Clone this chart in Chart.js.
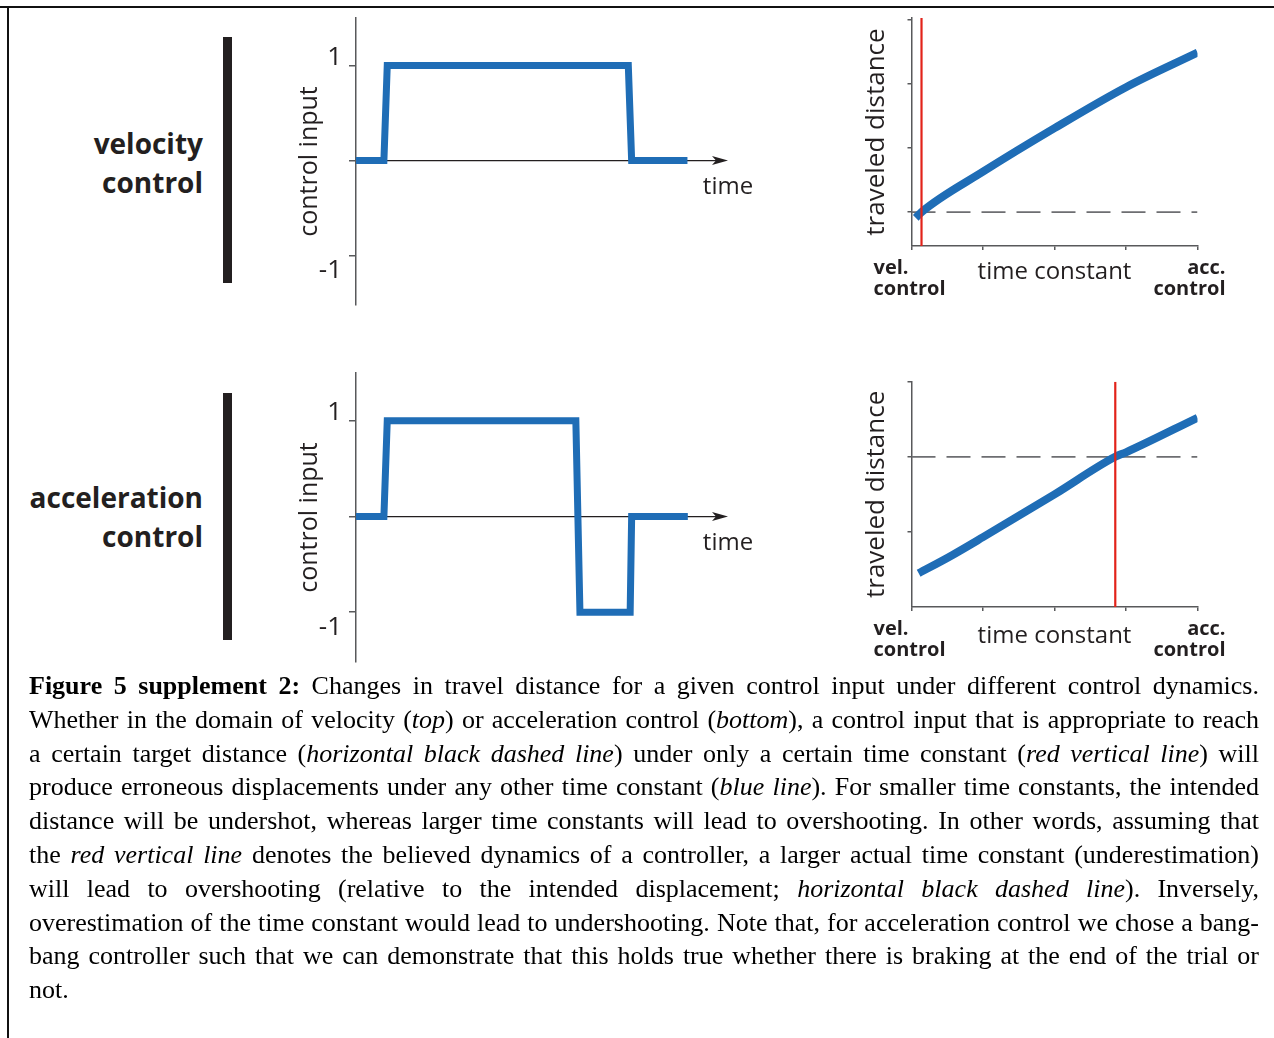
<!DOCTYPE html>
<html>
<head>
<meta charset="utf-8">
<script src="https://cdn.jsdelivr.net/npm/chart.js@4.4.1/dist/chart.umd.min.js"></script>
<style>
  body { margin: 0; width: 1274px; height: 1038px; position: relative; background: #fff; overflow: hidden; }
  .frame-top { position: absolute; left: 0; top: 6px; width: 1274px; height: 2px; background: #111; }
  .frame-left { position: absolute; left: 7px; top: 6px; width: 2px; height: 1032px; background: #111; }
  .panel { position: absolute; }
  .rowlabel { position: absolute; left: 0; width: 203px; text-align: right; font: 700 28px 'Open Sans', sans-serif; line-height: 38.5px; color: #231f20; }
  .bar { position: absolute; left: 223px; width: 9px; background: #231f20; }
  .caption { position: absolute; left: 29px; top: 669px; width: 1230px; font-family: 'Liberation Serif', 'Times New Roman', serif; font-size: 26px; line-height: 33.8px; color: #000; }
  .caption div { text-align: justify; text-align-last: justify; white-space: nowrap; }
  .caption div.last { text-align-last: left; }
</style>
</head>
<body>
<div class="frame-top"></div>
<div class="frame-left"></div>

<div class="rowlabel" style="top:124px">velocity<br>control</div>
<div class="bar" style="top:37px;height:246px"></div>
<div class="rowlabel" style="top:478px">acceleration<br>control</div>
<div class="bar" style="top:393px;height:247px"></div>

<canvas id="velInputChart" class="panel" style="left:290px;top:10px" width="480" height="310"></canvas>
<canvas id="accInputChart" class="panel" style="left:290px;top:365px" width="480" height="310"></canvas>
<canvas id="velDistChart" class="panel" style="left:850px;top:10px" width="400" height="290"></canvas>
<canvas id="accDistChart" class="panel" style="left:850px;top:370px" width="400" height="300"></canvas>

<div class="caption">
  <div><b>Figure 5 supplement 2:</b> Changes in travel distance for a given control input under different control dynamics.</div>
  <div>Whether in the domain of velocity (<i>top</i>) or acceleration control (<i>bottom</i>), a control input that is appropriate to reach</div>
  <div>a certain target distance (<i>horizontal black dashed line</i>) under only a certain time constant (<i>red vertical line</i>) will</div>
  <div>produce erroneous displacements under any other time constant (<i>blue line</i>). For smaller time constants, the intended</div>
  <div>distance will be undershot, whereas larger time constants will lead to overshooting. In other words, assuming that</div>
  <div>the <i>red vertical line</i> denotes the believed dynamics of a controller, a larger actual time constant (underestimation)</div>
  <div>will lead to overshooting (relative to the intended displacement; <i>horizontal black dashed line</i>). Inversely,</div>
  <div>overestimation of the time constant would lead to undershooting. Note that, for acceleration control we chose a bang-</div>
  <div>bang controller such that we can demonstrate that this holds true whether there is braking at the end of the trial or</div>
  <div class="last">not.</div>
</div>

<script>
// control input over time (step profiles)
const velTime = [0, 0.75, 0.84, 7.32, 7.41, 8.91];
const velInput = [0, 0, 1, 1, 0, 0];
const accTime = [0, 0.75, 0.84, 5.91, 6.02, 7.37, 7.41, 8.92];
const accInput = [0, 0, 1, 1, -1, -1, 0, 0];
const inputTicks = [-1, 0, 1];

// traveled distance vs. time constant
const tcTicks = [0, 1, 2, 3, 4];
const tcEndLabels = [['vel.', 'control'], ['acc.', 'control']];

const velTc = [0.06, 0.14, 1, 2, 3, 4];
const velDist = [0.91, 1.0, 1.63, 2.31, 2.95, 3.49];
const velTarget = 1;
const velBelieved = 0.14;
const velDistTicks = [1, 2, 3, 4];

const accTc = [0.1, 0.55, 1, 2, 2.85, 3, 4];
const accDist = [0.45, 0.68, 0.93, 1.5, 2.0, 2.06, 2.52];
const accTarget = 2;
const accBelieved = 2.85;
const accDistTicks = [1, 2, 3];

const BLUE = '#1f6db6';
const RED = '#e2231a';
const AXIS = '#58595b';
const INK = '#231f20';
const FONT = 'Open Sans';

const toPoints = (xs, ys) => xs.map((x, i) => ({ x: x, y: ys[i] }));

// zero line with arrow + "time" label
const timeArrow = {
    id: 'timeArrow',
    beforeDatasetsDraw(chart) {
        const { ctx, chartArea, scales } = chart;
        const y0 = scales.y.getPixelForValue(0);
        const xEnd = chartArea.right;
        ctx.save();
        ctx.strokeStyle = INK;
        ctx.lineWidth = 1.2;
        ctx.beginPath();
        ctx.moveTo(chartArea.left, y0);
        ctx.lineTo(xEnd - 8, y0);
        ctx.stroke();
        ctx.fillStyle = INK;
        ctx.beginPath();
        ctx.moveTo(xEnd, y0);
        ctx.lineTo(xEnd - 16, y0 - 4.5);
        ctx.lineTo(xEnd - 12, y0);
        ctx.lineTo(xEnd - 16, y0 + 4.5);
        ctx.closePath();
        ctx.fill();
        ctx.font = '24px "' + FONT + '"';
        ctx.textAlign = 'center';
        ctx.fillText('time', xEnd, y0 + 33);
        ctx.restore();
    }
};

// "vel. control" / "acc. control" under the ends of the x axis
const endLabels = {
    id: 'endLabels',
    afterDraw(chart) {
        const { ctx, chartArea } = chart;
        ctx.save();
        ctx.font = '700 20px "' + FONT + '"';
        ctx.fillStyle = INK;
        ctx.textAlign = 'left';
        ctx.fillText(tcEndLabels[0][0], chartArea.left - 38, chartArea.bottom + 28);
        ctx.fillText(tcEndLabels[0][1], chartArea.left - 38, chartArea.bottom + 49);
        ctx.textAlign = 'right';
        ctx.fillText(tcEndLabels[1][0], chartArea.right + 28, chartArea.bottom + 28);
        ctx.fillText(tcEndLabels[1][1], chartArea.right + 28, chartArea.bottom + 49);
        ctx.restore();
    }
};

function inputChart(id, xs, ys, pad) {
    return new Chart(document.getElementById(id), {
        type: 'line',
        data: {
            datasets: [{
                data: toPoints(xs, ys),
                borderColor: BLUE,
                borderWidth: 7,
                pointRadius: 0,
                tension: 0,
                borderJoinStyle: 'miter'
            }]
        },
        options: {
            responsive: false,
            animation: false,
            layout: { padding: pad },
            plugins: { legend: { display: false }, tooltip: { enabled: false } },
            scales: {
                x: { type: 'linear', min: 0, max: 10, display: false },
                y: {
                    type: 'linear', min: -1.52, max: 1.5,
                    afterBuildTicks: s => { s.ticks = inputTicks.map(v => ({ value: v })); },
                    afterFit: s => { s.width = 66; s.paddingTop = 0; s.paddingBottom = 0; },
                    grid: { drawOnChartArea: false, drawTicks: true, tickLength: 7, color: AXIS, lineWidth: 1.5 },
                    border: { display: true, color: AXIS, width: 1.5 },
                    ticks: {
                        color: INK, padding: 7, labelOffset: 3.5,
                        font: { family: FONT, size: 26, lineHeight: 0.9 },
                        callback: v => v === 1 ? ['1', ''] : (v === -1 ? ['', '-1'] : '')
                    },
                    title: {
                        display: true, text: 'control input', color: INK,
                        font: { family: FONT, size: 25 },
                        padding: { top: 5, bottom: 0 }
                    }
                }
            }
        },
        plugins: [timeArrow]
    });
}

function distChart(id, tc, dist, target, believed, yMin, yMax, yTicks, pad, xH, titlePad) {
    return new Chart(document.getElementById(id), {
        type: 'line',
        data: {
            datasets: [{
                // believed time constant
                data: [{ x: believed, y: yMin }, { x: believed, y: yMax }],
                borderColor: RED, borderWidth: 2.2, pointRadius: 0
            }, {
                data: toPoints(tc, dist),
                borderColor: BLUE, borderWidth: 8, pointRadius: 0,
                cubicInterpolationMode: 'monotone'
            }, {
                // target distance
                data: [{ x: 0, y: target }, { x: 4, y: target }],
                borderColor: '#6d6e71', borderWidth: 1.8, pointRadius: 0,
                borderDash: [24, 11]
            }]
        },
        options: {
            responsive: false,
            animation: false,
            layout: { padding: pad },
            plugins: { legend: { display: false }, tooltip: { enabled: false } },
            scales: {
                x: {
                    type: 'linear', min: 0, max: 4,
                    afterBuildTicks: s => { s.ticks = tcTicks.map(v => ({ value: v })); },
                    afterFit: s => { s.height = xH; },
                    grid: { drawOnChartArea: false, drawTicks: true, tickLength: 4, color: AXIS, lineWidth: 1.5 },
                    border: { display: true, color: AXIS, width: 1.5 },
                    ticks: { display: false },
                    title: {
                        display: true, text: 'time constant', color: INK,
                        font: { family: FONT, size: 24 },
                        padding: { top: 0, bottom: titlePad }
                    }
                },
                y: {
                    type: 'linear', min: yMin, max: yMax,
                    afterBuildTicks: s => { s.ticks = yTicks.map(v => ({ value: v })); },
                    afterFit: s => { s.width = 61.5; },
                    grid: { drawOnChartArea: false, drawTicks: true, tickLength: 4, color: AXIS, lineWidth: 1.5 },
                    border: { display: true, color: AXIS, width: 1.5 },
                    ticks: { display: false },
                    title: {
                        display: true, text: 'traveled distance', color: INK,
                        font: { family: FONT, size: 26 },
                        padding: { top: 10.5, bottom: 0 }
                    }
                }
            }
        },
        plugins: [endLabels]
    });
}

inputChart('velInputChart', velTime, velInput, { left: 0, right: 42, top: 8, bottom: 15 });
inputChart('accInputChart', accTime, accInput, { left: 0, right: 42, top: 8, bottom: 13 });
distChart('velDistChart', velTc, velDist, velTarget, velBelieved, 0.47, 4.03, velDistTicks,
    { left: 0, right: 52.5, top: 8, bottom: 4 }, 50, 9.6);
distChart('accDistChart', accTc, accDist, accTarget, accBelieved, 0, 3, accDistTicks,
    { left: 0, right: 52.5, top: 11.7, bottom: 8 }, 55, 11.6);
</script>
</body>
</html>
